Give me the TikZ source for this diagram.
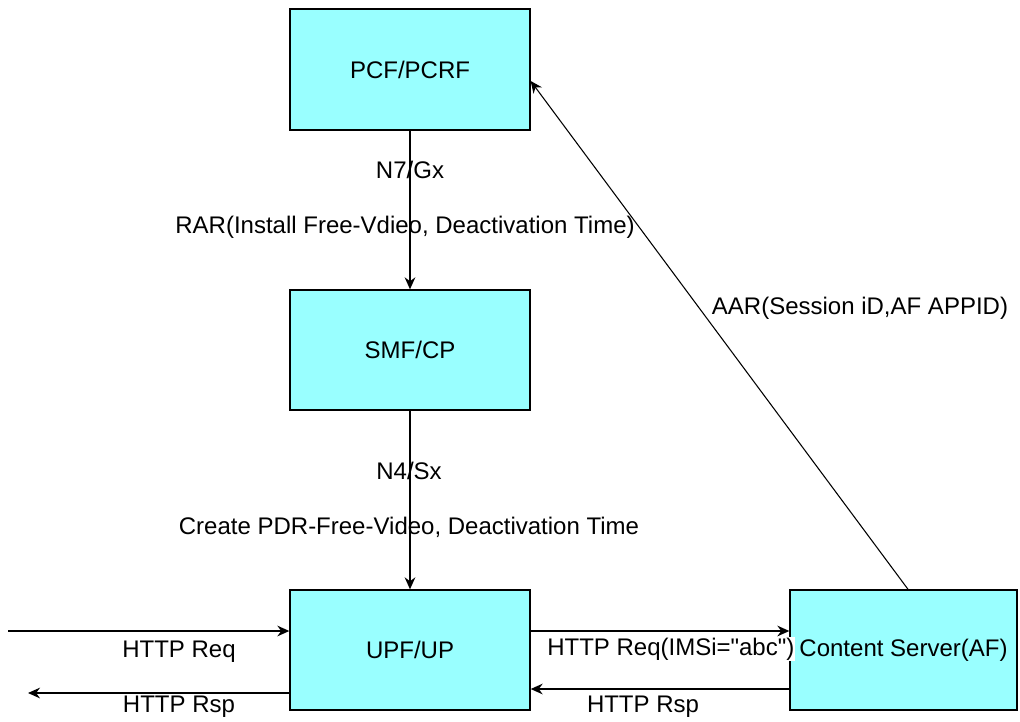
\documentclass[tikz,border=0pt]{standalone}
\usepackage{fontspec}
\setmainfont{Liberation Sans}[Ligatures=TeXOff]
\usetikzlibrary{arrows.meta}
\definecolor{boxcyan}{RGB}{153,255,255}

\begin{document}
\begin{tikzpicture}[x=0.75pt,y=0.75pt,yscale=-1,xscale=1,
  nf/.style={draw,line width=1pt,fill=boxcyan,inner sep=0pt,minimum width=180pt,minimum height=90pt,font=\fontsize{18}{21}\selectfont},
  lbl/.style={inner sep=0.75pt,font=\fontsize{18}{21}\selectfont},
  msg/.style={line width=1.2pt,-{Stealth[length=9pt,width=8pt]}}]
\path[use as bounding box] (0,0) rectangle (1020,721); %set diagram to 1020 x 721

%Shape: Rectangle [id:pcf]
\node [nf,minimum height=90.75pt] (pcf) at (410,69.5) {PCF/PCRF};
%Shape: Rectangle [id:smf]
\node [nf] (smf) at (410,350) {SMF/CP};
%Shape: Rectangle [id:upf]
\node [nf] (upf) at (410,650) {UPF/UP};
%Shape: Rectangle [id:cs]
\node [nf,minimum width=170.25pt] (cs) at (903.5,650) {Content Server(AF)};

%Shape: free ends of the outer flows
\coordinate (reqin) at (8,631);
\coordinate (rspout) at (28,693);
\coordinate (rsprow) at (0,689);

%Straight Lines
\draw [msg] (pcf) -- (smf);
\draw [msg] (smf) -- (upf);
\draw [msg] (reqin) -- (reqin -| upf.west);
\draw [msg] (upf.west |- rspout) -- (rspout);
\draw [msg] (upf.east |- reqin) -- (cs.west |- reqin);
\draw [msg] (cs.west |- rsprow) -- (upf.east |- rsprow);
\draw [msg,line width=0.8pt] ([xshift=3.4pt]cs.north) -- ([yshift=8.6pt]pcf.east);

% Text Node
\node [lbl] (n7) at (410,170) {N7/Gx};
% Text Node
\node [lbl] (rar) at (405,227) {RAR(Install Free-Vdieo, Deactivation Time)};
% Text Node
\node [lbl] (n4) at (409,471) {N4/Sx};
% Text Node
\node [lbl] (pdr) at (409,527) {Create PDR-Free-Video, Deactivation Time};
% Text Node
\node [lbl] (aar) at (860,308) {AAR(Session iD,AF APPID)};
% Text Node
\node [lbl] (reql) at (179,652) {HTTP Req};
% Text Node
\node [lbl] (rspl) at (179,707) {HTTP Rsp};
% Text Node
\node [lbl,anchor=west,fill=white] (reqr) at (546,649) {HTTP Req(IMSi="abc")};
% Text Node
\node [lbl] (rspr) at (643,707) {HTTP Rsp};

\end{tikzpicture}
\end{document}
